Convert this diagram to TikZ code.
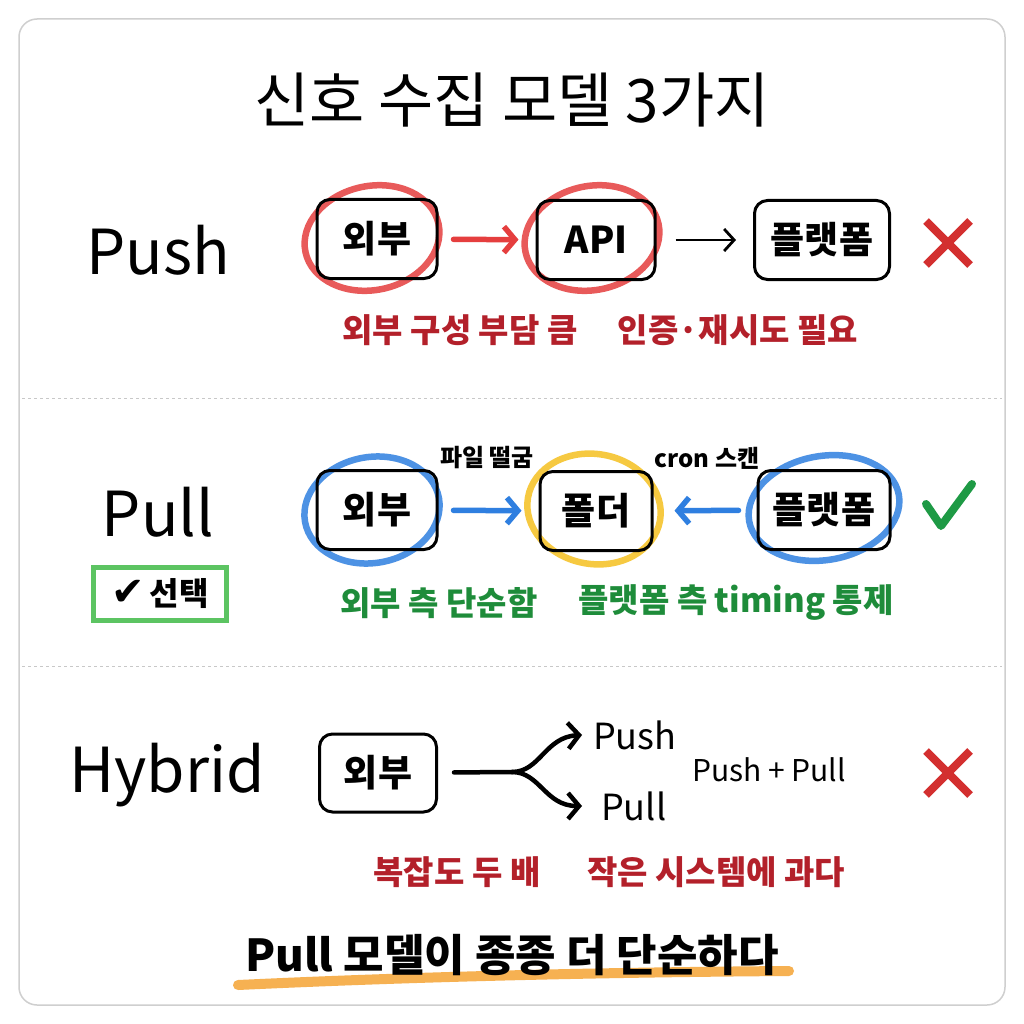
\documentclass[tikz,border=0pt]{standalone}
\usepackage{fontspec}
\setmainfont{Noto Sans CJK KR}
\newfontfamily\symfont{DejaVu Sans}
\usetikzlibrary{arrows.meta}
\definecolor{framegray}{HTML}{CFCFCF}
\definecolor{sepgray}{HTML}{C8C8C8}
\definecolor{loopred}{HTML}{E53E3E}
\definecolor{txtred}{HTML}{B3202A}
\definecolor{loopblue}{HTML}{2F7FE0}
\definecolor{loopyellow}{HTML}{F5C020}
\definecolor{txtgreen}{HTML}{1E8C3A}
\definecolor{boxgreen}{HTML}{5CC462}
\definecolor{checkgreen}{HTML}{1E9A45}
\definecolor{xred}{HTML}{D32F2F}
\definecolor{hlorange}{HTML}{F6A940}
\newcommand{\fsz}[1]{\fontsize{#1}{#1}\selectfont}
\tikzset{
  x=1pt, y=-1pt,
  stepbox/.style={draw=black, line width=3pt, rounded corners=13pt, minimum height=79pt, inner sep=0pt, font=\bfseries\fsz{37}},
  lbl/.style={inner sep=0pt, anchor=center},
  bigname/.style={lbl, font=\fsz{62}},
  redtxt/.style={lbl, text=txtred, font=\bfseries\fsz{33}},
  greentxt/.style={lbl, text=txtgreen, font=\bfseries\fsz{33}},
  smalltxt/.style={lbl, font=\bfseries\fsz{24}},
  loop/.style={line width=6.5pt, opacity=0.85},
  redarrow/.style={draw=loopred, line width=5.5pt, line cap=round, -{Straight Barb[length=11pt,width=26pt,line width=5.5pt]}},
  bluearrow/.style={draw=loopblue, line width=5.5pt, line cap=round, -{Straight Barb[length=11pt,width=26pt,line width=5.5pt]}},
  blackarrow/.style={draw=black, line width=2.8pt, -{Straight Barb[length=10pt,width=22pt,line width=2.8pt]}},
  forkline/.style={draw=black, line width=4.5pt, line cap=round},
  xmark/.style={draw=xred, line width=8pt},
  sep/.style={draw=sepgray, line width=1pt, dash pattern=on 3pt off 3pt},
}
\begin{document}
\begin{tikzpicture}
\useasboundingbox (0,0) rectangle (1024,1024);
\fill[white] (0,0) rectangle (1024,1024);
\draw[framegray, line width=1.5pt, rounded corners=18pt] (19,19) rectangle (1005,1005);

% title
\node[lbl, font=\fsz{60}] (title) at (512,100) {신호 수집 모델 3가지};

% ---------- Push row ----------
\node[bigname] (pushname) at (158,250) {Push};
\draw[loopred, loop, rotate around={12:(372,238)}] (372,238) ellipse (68pt and 52pt);
\draw[loopred, loop, rotate around={12:(592,238)}] (592,238) ellipse (68pt and 52pt);
\node[stepbox, minimum width=120pt] (e1) at (377,239) {외부};
\node[stepbox, minimum width=118pt] (a1) at (596,240) {API};
\node[stepbox, minimum width=135pt] (p1) at (822,240) {플랫폼};
\draw[redarrow, shorten <=15pt, shorten >=17pt] (e1) -- (a1);
\draw[blackarrow, shorten <=19pt, shorten >=17pt] (a1) -- (p1);
\coordinate (x1) at (948,243);
\draw[xmark] ([shift={(-22,-22)}]x1) -- ([shift={(22,22)}]x1);
\draw[xmark] ([shift={(22,-22)}]x1) -- ([shift={(-22,22)}]x1);
\node[redtxt] (r1a) at (460,330) {외부 구성 부담 큼};
\node[redtxt] (r1b) at (738,330) {인증·재시도 필요};

\draw[sep] (22,398) -- (1002,398);

% ---------- Pull row ----------
\node[bigname] (pullname) at (158,512) {Pull};
\node[draw=boxgreen, line width=5pt, minimum width=133pt, minimum height=53pt, inner sep=0pt, font=\bfseries\fsz{32}] (sel) at (160,594) {{\symfont\fsz{40}✔}\,선택};
\draw[loopblue, loop, rotate around={10:(372,510)}] (372,510) ellipse (68pt and 53pt);
\draw[loopyellow, loop, rotate around={-10:(594,509)}] (594,509) ellipse (67pt and 55pt);
\draw[loopblue, loop, rotate around={10:(824,508)}] (824,508) ellipse (76pt and 52pt);
\node[stepbox, minimum width=120pt] (e2) at (377,510) {외부};
\node[stepbox, minimum width=112pt] (f2) at (596,511) {폴더};
\node[stepbox, minimum width=132pt] (p2) at (824,510) {플랫폼};
\draw[bluearrow, shorten <=15pt, shorten >=17pt] (e2) -- (f2);
\draw[bluearrow, shorten <=18pt, shorten >=21pt] (p2) -- (f2);
\node[smalltxt] (lab1) at (487,458) {파일 떨굼};
\node[smalltxt] (lab2) at (707,458) {cron 스캔};
\coordinate (ck) at (948,508);
\draw[checkgreen, line width=8pt, line cap=round, line join=round] ([shift={(-22,-4)}]ck) -- ([shift={(-7,18)}]ck) -- ([shift={(24,-24)}]ck);
\node[greentxt] (g2a) at (439,603) {외부 측 단순함};
\node[greentxt] (g2b) at (736,603) {플랫폼 측 timing 통제};

\draw[sep] (22,666) -- (1002,666);

% ---------- Hybrid row ----------
\node[bigname] (hybname) at (167,775) {Hybrid};
\node[stepbox, minimum width=117pt, minimum height=78pt] (e3) at (378,773) {외부};
\coordinate (fork) at (512,772);
\node[lbl, font=\fsz{36}, anchor=west] (push3) at (593,735) {Push};
\node[lbl, font=\fsz{36}, anchor=west] (pull3) at (601,806) {Pull};
\draw[forkline, shorten <=16pt] (e3) -- (fork);
\draw[forkline, -{Straight Barb[length=11pt,width=26pt,line width=4.5pt]}] (fork) .. controls (540,772) and (545,737) .. ([xshift=-11pt]push3.west);
\draw[forkline, -{Straight Barb[length=11pt,width=26pt,line width=4.5pt]}] (fork) .. controls (540,772) and (545,806) .. ([xshift=-19pt]pull3.west);
\node[lbl, font=\fsz{30}] (pp) at (769,770) {Push + Pull};
\coordinate (x3) at (948,773);
\draw[xmark] ([shift={(-22,-22)}]x3) -- ([shift={(22,22)}]x3);
\draw[xmark] ([shift={(22,-22)}]x3) -- ([shift={(-22,22)}]x3);
\node[redtxt] (r3a) at (457,872) {복잡도 두 배};
\node[redtxt] (r3b) at (716,872) {작은 시스템에 과다};

% ---------- bottom ----------
\draw[hlorange, line width=10pt, line cap=round, opacity=0.9] (238,985) .. controls (450,975) and (650,972) .. (789,971);
\node[lbl, font=\bfseries\fsz{44}] (bottom) at (512,955) {Pull 모델이 종종 더 단순하다};
\end{tikzpicture}
\end{document}
